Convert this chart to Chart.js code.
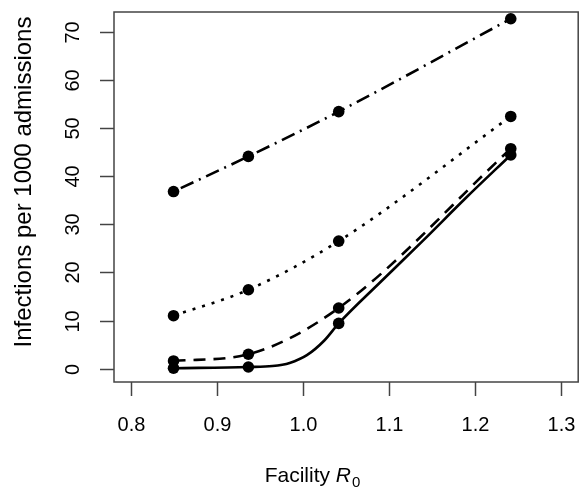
<!DOCTYPE html>
<html>
<head>
<meta charset="utf-8">
<script src="https://cdn.jsdelivr.net/npm/chart.js@4.4.1/dist/chart.umd.min.js"></script>
<style>
  html, body { margin: 0; padding: 0; background: #fff; }
  #wrap { width: 584px; height: 487px; }
</style>
</head>
<body>
<div id="wrap"><canvas id="chart" width="584" height="487"></canvas></div>
<script>
const r0 = [0.85, 0.937, 1.042, 1.242];
const dotDash = [36.8, 44.1, 53.4, 72.7];
const dotted = [11.0, 16.4, 26.5, 52.4];
const dashed = [1.6, 3.0, 12.6, 45.7];
const solid = [0.1, 0.35, 9.4, 44.4];
// the solid curve bends near R0 = 1, so read a few more values along it
const solidCurveR0 = [0.85, 0.937, 0.965, 0.985, 1.005, 1.025, 1.042, 1.09, 1.14, 1.19, 1.242];
const solidCurveVal = [0.1, 0.35, 0.55, 1.2, 2.8, 5.8, 9.4, 17.9, 26.6, 35.5, 44.4];
const xTicks = [0.8, 0.9, 1.0, 1.1, 1.2, 1.3];
const yTicks = [0, 10, 20, 30, 40, 50, 60, 70];

const FONT = '"Liberation Sans", Arial, sans-serif';
const toPts = (xs, ys) => xs.map((x, i) => ({ x: x, y: ys[i] }));

function curve(xs, ys, dash) {
  return {
    type: "line",
    data: toPts(xs, ys),
    borderColor: "#000",
    borderWidth: 2.6,
    borderDash: dash,
    borderCapStyle: "butt",
    cubicInterpolationMode: "monotone",
    pointRadius: 0,
    fill: false,
  };
}

function markers(ys) {
  return {
    type: "scatter",
    data: toPts(r0, ys),
    backgroundColor: "#000",
    borderColor: "#000",
    borderWidth: 0,
    pointRadius: 5.8,
    showLine: false,
  };
}

// base-R style axes: box, outward ticks, labels parallel to the axis
const rAxes = {
  id: "rAxes",
  afterDraw(chart) {
    const { ctx, chartArea: a, scales } = chart;
    const xs = scales.x, ys = scales.y;
    ctx.save();
    ctx.strokeStyle = "#444";
    ctx.lineWidth = 1.5;
    ctx.strokeRect(a.left, a.top, a.right - a.left, a.bottom - a.top);

    ctx.fillStyle = "#000";
    ctx.font = "20px " + FONT;
    ctx.textAlign = "center";
    ctx.textBaseline = "middle";
    xTicks.forEach((t) => {
      const px = Math.round(xs.getPixelForValue(t)) + 0.5;
      ctx.beginPath();
      ctx.moveTo(px, a.bottom);
      ctx.lineTo(px, a.bottom + 14);
      ctx.stroke();
      ctx.fillText(t.toFixed(1), px, 425);
    });
    yTicks.forEach((t) => {
      const py = Math.round(ys.getPixelForValue(t)) + 0.5;
      ctx.beginPath();
      ctx.moveTo(a.left, py);
      ctx.lineTo(a.left - 14, py);
      ctx.stroke();
      ctx.save();
      ctx.translate(73, py);
      ctx.rotate(-Math.PI / 2);
      ctx.fillText(String(t), 0, 0);
      ctx.restore();
    });

    // y title
    ctx.save();
    ctx.translate(24, 182);
    ctx.rotate(-Math.PI / 2);
    ctx.font = "24px " + FONT;
    ctx.fillText("Infections per 1000 admissions", 0, 0);
    ctx.restore();

    // x title with italic R and subscript 0
    const base = "Facility ";
    ctx.font = "21px " + FONT;
    const w1 = ctx.measureText(base).width;
    ctx.font = "italic 21px " + FONT;
    const w2 = ctx.measureText("R").width;
    ctx.font = "15px " + FONT;
    const w3 = ctx.measureText("0").width;
    let x0 = 312 - (w1 + w2 + w3) / 2;
    ctx.textAlign = "left";
    ctx.textBaseline = "alphabetic";
    ctx.font = "21px " + FONT;
    ctx.fillText(base, x0, 482);
    ctx.font = "italic 21px " + FONT;
    ctx.fillText("R", x0 + w1, 482);
    ctx.font = "15px " + FONT;
    ctx.fillText("0", x0 + w1 + w2 + 1, 487);
    ctx.restore();
  },
};

new Chart(document.getElementById("chart"), {
  type: "line",
  data: {
    datasets: [
      curve(r0, dotDash, [2, 6, 14, 6]),
      curve(r0, dotted, [3, 7]),
      curve(r0, dashed, [12, 8]),
      curve(solidCurveR0, solidCurveVal, []),
      markers(dotDash),
      markers(dotted),
      markers(dashed),
      markers(solid),
    ],
  },
  options: {
    responsive: false,
    animation: false,
    devicePixelRatio: 1,
    layout: { padding: { left: 114, right: 2, top: 12, bottom: 105 } },
    scales: {
      x: { type: "linear", min: 0.7808, max: 1.3204, display: false },
      y: { type: "linear", min: -2.77, max: 74.1, display: false },
    },
    plugins: {
      legend: { display: false },
      tooltip: { enabled: false },
    },
  },
  plugins: [rAxes],
});
</script>
</body>
</html>
